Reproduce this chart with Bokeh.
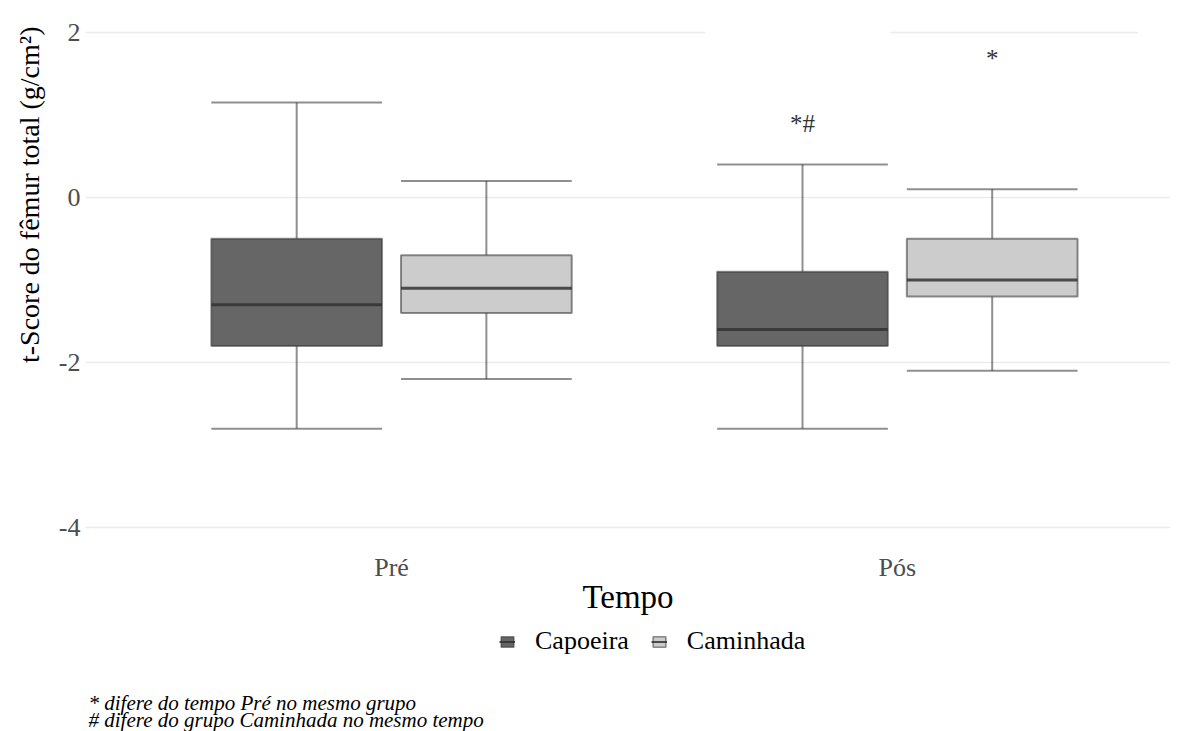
from bokeh.plotting import figure
from bokeh.models import (ColumnDataSource, FixedTicker, Legend, LegendItem, Title,
                          Range1d, Label)
from bokeh.layouts import column
from bokeh.core.properties import value
from bokeh.embed import file_html
from bokeh.resources import INLINE

# ---- data ----
tempos = ["Pré", "Pós"]
grupos = ["Capoeira", "Caminhada"]
cap_lower = [-2.8, -2.8]
cap_q1 = [-1.8, -1.8]
cap_median = [-1.3, -1.6]
cap_q3 = [-0.5, -0.9]
cap_upper = [1.15, 0.4]
cam_lower = [-2.2, -2.1]
cam_q1 = [-1.4, -1.2]
cam_median = [-1.1, -1.0]
cam_q3 = [-0.7, -0.5]
cam_upper = [0.2, 0.1]
annot_text = ["*#", "*"]
annot_group = ["Capoeira", "Caminhada"]
annot_tempo = ["Pós", "Pós"]
annot_y = [0.9, 1.68]
y_ticks = [-4, -2, 0, 2]
y_tick_labels = ["-4", "-2", "0", "2"]
footnotes = ["* difere do tempo Pré no mesmo grupo",
             "# difere do grupo Caminhada no mesmo tempo"]

# ---- styling ----
SERIF = "Liberation Serif"
fill_colors = {"Capoeira": "#666666", "Caminhada": "#cccccc"}
dodge = {"Capoeira": -0.1875, "Caminhada": 0.1875}
box_w = 0.3375
tempo_pos = {t: i + 1 for i, t in enumerate(tempos)}
LEFT = 85
W = 1170

p = figure(frame_width=W - LEFT, frame_height=545, output_backend="svg",
           toolbar_location=None, x_range=Range1d(0.395, 2.54),
           y_range=Range1d(-4.3, 2.3), min_border_left=LEFT,
           min_border_right=0, min_border_top=7, min_border_bottom=64)
p.outline_line_color = None
p.background_fill_color = "white"
p.border_fill_color = "white"

p.xgrid.visible = False
p.ygrid.ticker = FixedTicker(ticks=y_ticks)
p.ygrid.grid_line_color = "#ebebeb"
p.ygrid.grid_line_width = 1.6

mask_x0 = [1.62, 2.476]
mask_x1 = [1.986, 2.6]
p.quad(left=mask_x0, right=mask_x1, bottom=[1.93, 1.93], top=[2.07, 2.07],
       fill_color="white", line_color=None)

data = {
    "Capoeira": (cap_lower, cap_q1, cap_median, cap_q3, cap_upper),
    "Caminhada": (cam_lower, cam_q1, cam_median, cam_q3, cam_upper),
}
for g in grupos:
    lo, q1, med, q3, up = data[g]
    xc = [tempo_pos[t] + dodge[g] for t in tempos]
    src = ColumnDataSource(dict(x=xc, lo=lo, q1=q1, med=med, q3=q3, up=up,
                                l=[x - box_w / 2 for x in xc],
                                r=[x + box_w / 2 for x in xc]))
    p.segment(x0="x", x1="x", y0="q3", y1="up", source=src,
              line_color="#333333", line_alpha=0.55, line_width=2)
    p.segment(x0="x", x1="x", y0="lo", y1="q1", source=src,
              line_color="#333333", line_alpha=0.55, line_width=2)
    p.segment(x0="l", x1="r", y0="up", y1="up", source=src,
              line_color="#333333", line_alpha=0.55, line_width=2)
    p.segment(x0="l", x1="r", y0="lo", y1="lo", source=src,
              line_color="#333333", line_alpha=0.55, line_width=2)
    p.quad(left="l", right="r", bottom="q1", top="q3", source=src,
           fill_color=fill_colors[g], line_color="#333333",
           line_alpha=0.55, line_width=2)
    p.segment(x0="l", x1="r", y0="med", y1="med", source=src,
              line_color="#333333", line_alpha=0.85, line_width=3)

ax = [tempo_pos[t] + dodge[g] for t, g in zip(annot_tempo, annot_group)]
p.text(x=ax, y=annot_y, text=annot_text, text_align="center",
       text_baseline="middle", text_font=value(SERIF),
       text_font_size="25px", text_color="#333333")

p.xaxis.ticker = FixedTicker(ticks=[tempo_pos[t] for t in tempos])
p.xaxis.major_label_overrides = {tempo_pos[t]: t for t in tempos}
p.yaxis.ticker = FixedTicker(ticks=y_ticks)
p.yaxis.major_label_overrides = dict(zip(y_ticks, y_tick_labels))
for a in (p.xaxis[0], p.yaxis[0]):
    a.axis_line_color = None
    a.major_tick_line_color = None
    a.minor_tick_line_color = None
    a.major_tick_out = 0
    a.major_tick_in = 0
    a.major_label_text_font = SERIF
    a.major_label_text_font_size = "26px"
    a.major_label_text_color = "#4d4d4d"
    a.axis_label_text_font = SERIF
    a.axis_label_text_font_style = "normal"
    a.axis_label_text_color = "black"
p.yaxis.major_label_standoff = 5
p.xaxis.axis_label = "Tempo"
p.xaxis.axis_label_text_font_size = "33px"
p.xaxis.major_label_standoff = 0
p.xaxis.axis_label_standoff = -6

p.add_layout(Title(text="t-Score do fêmur total  (g/cm²)", align="right",
                   text_font=SERIF, text_font_style="normal",
                   text_font_size="28px", text_color="black",
                   standoff=22, offset=12), "left")

# ---- legend + footnotes strip (frame aligned with the main plot) ----
H2 = 114
p2 = figure(width=W, height=H2, output_backend="svg", toolbar_location=None,
            x_range=Range1d(LEFT, W), y_range=Range1d(0, H2),
            x_axis_location=None, y_axis_location=None,
            min_border_left=LEFT, min_border_right=0,
            min_border_top=0, min_border_bottom=0)
p2.outline_line_color = None
p2.grid.visible = False
p2.border_fill_color = "white"

# legend proxies (kept outside the visible range)
items = []
for g in grupos:
    rq = p2.quad(left=[0], right=[1], bottom=[0], top=[1],
                 fill_color=fill_colors[g], line_color="#333333",
                 line_alpha=0.55, line_width=1.5)
    rm = p2.segment(x0=[0], x1=[1], y0=[0], y1=[0], line_color="#333333",
                    line_alpha=0.85, line_width=2)
    items.append(LegendItem(label=g, renderers=[rq, rm]))
legend = Legend(items=items, orientation="horizontal", location=(499 - LEFT, 75),
                label_text_font=SERIF, label_text_font_size="26px",
                label_text_color="black",
                glyph_width=16, glyph_height=13, border_line_color=None,
                background_fill_alpha=0, spacing=22, padding=0, margin=0,
                label_standoff=20)
p2.add_layout(legend, "center")

for txt, yy in zip(footnotes, [29, 12]):
    p2.add_layout(Label(x=88, y=yy, text=txt, text_font=SERIF,
                        text_font_style="italic", text_font_size="21px",
                        text_color="black", text_baseline="middle"))

layout = column(p, p2, spacing=0)
open("out.html", "w").write(file_html(layout, INLINE))
